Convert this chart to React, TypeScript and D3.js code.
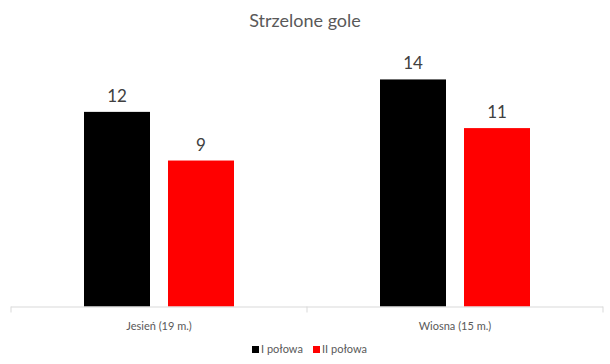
import React from "react";
import * as d3 from "d3";

const categories = ["Jesień (19 m.)", "Wiosna (15 m.)"];
const seriesNames = ["I połowa", "II połowa"];
const firstHalf = [12, 14];
const secondHalf = [9, 11];
const colors = ["#000000", "#ff0000"];

const W = 610;
const H = 364;
const FONT = "Lato, 'Open Sans', sans-serif";

export default function App() {
  const x = d3.scaleBand<string>().domain(categories).range([11, 603]);
  const y = d3.scaleLinear().domain([0, 16]).range([306.5, 47]);
  const barW = 66;
  const gap = 18;
  const series = [firstHalf, secondHalf];
  const base = y(0);
  const ticks = [x.range()[0], ...categories.map((c) => (x(c) as number) + x.bandwidth())];

  return (
    <svg width={W} height={H} style={{ position: "absolute", left: 0, top: 0, background: "#fff" }}>
      <text x={305} y={27} textAnchor="middle" fontFamily={FONT} fontSize={18} fill="#595959">
        Strzelone gole
      </text>
      {categories.map((c, ci) => {
        const cx = (x(c) as number) + x.bandwidth() / 2;
        return series.map((s, si) => {
          const bx = cx - barW - gap / 2 + si * (barW + gap);
          const v = s[ci];
          return (
            <g key={c + si}>
              <rect x={bx} y={y(v)} width={barW} height={base - y(v)} fill={colors[si]} />
              <text
                x={bx + barW / 2}
                y={y(v) - 10}
                textAnchor="middle"
                fontFamily={FONT}
                fontSize={17}
                fill="#404040"
              >
                {v}
              </text>
            </g>
          );
        });
      })}
      <line x1={x.range()[0]} x2={x.range()[1]} y1={base + 0.5} y2={base + 0.5} stroke="#d9d9d9" />
      {ticks.map((t, i) => (
        <line key={i} x1={t} x2={t} y1={base} y2={base + 6} stroke="#d9d9d9" />
      ))}
      {categories.map((c) => (
        <text
          key={c}
          x={(x(c) as number) + x.bandwidth() / 2}
          y={330}
          textAnchor="middle"
          fontFamily={FONT}
          fontSize={11}
          fill="#595959"
        >
          {c}
        </text>
      ))}
      {seriesNames.map((n, i) => {
        const lx = [252, 313][i];
        return (
          <g key={n}>
            <rect x={lx} y={346} width={7} height={7} fill={colors[i]} />
            <text x={lx + 9} y={353} fontFamily={FONT} fontSize={11} fill="#595959">
              {n}
            </text>
          </g>
        );
      })}
    </svg>
  );
}
